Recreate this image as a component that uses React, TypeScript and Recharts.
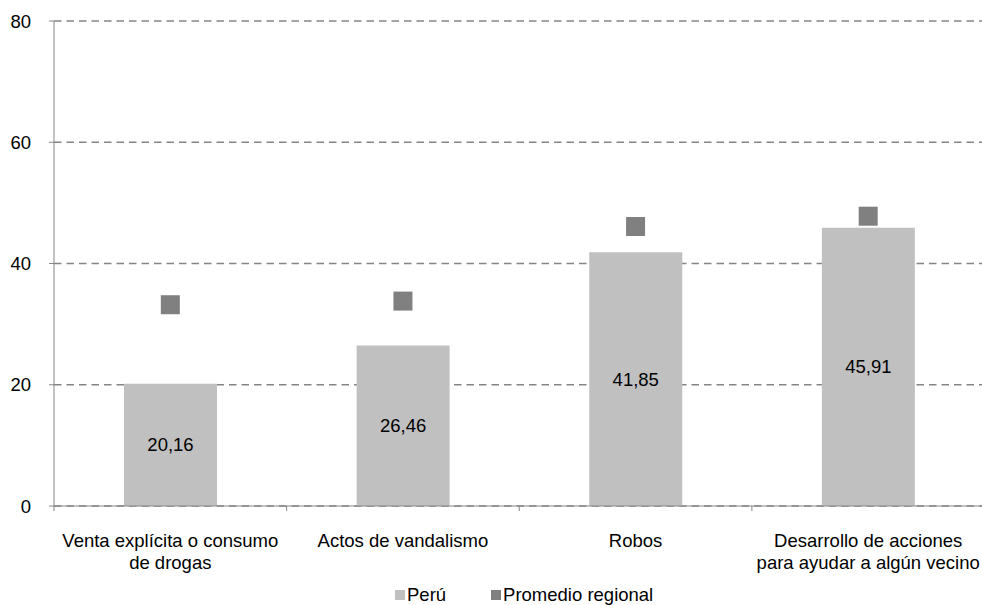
import { ComposedChart, Bar, Scatter, XAxis, YAxis, CartesianGrid, Legend, LabelList } from "recharts";

// categorías (con salto de línea donde el original parte el texto)
const categorias = [
  "Venta explícita o consumo\nde drogas",
  "Actos de vandalismo",
  "Robos",
  "Desarrollo de acciones\npara ayudar a algún vecino",
];
const peru = [20.16, 26.46, 41.85, 45.91];
const promedioRegional = [33.2, 33.8, 46.1, 47.8];
const ticksY = [0, 20, 40, 60, 80];

const data = categorias.map((c, i) => ({ cat: c, peru: peru[i], regional: promedioRegional[i] }));

const FONT = "'Liberation Sans', Arial, sans-serif";
const EJE = "#868686";

// etiqueta de categoría + marcas en los bordes de cada banda
const CatTick = (props: any) => {
  const { x, y, payload, index, width, visibleTicksCount } = props;
  const banda = width / visibleTicksCount;
  const lines = String(payload.value).split("\n");
  return (
    <g>
      <line x1={x - banda / 2} x2={x - banda / 2} y1={y} y2={y + 5} stroke={EJE} />
      {index === visibleTicksCount - 1 && (
        <line x1={x + banda / 2} x2={x + banda / 2} y1={y} y2={y + 5} stroke={EJE} />
      )}
      <text x={x} y={y} textAnchor="middle" fill="#000" fontSize={18.5} fontFamily={FONT}>
        {lines.map((l, i) => (
          <tspan key={i} x={x} dy={i === 0 ? 41 : 22}>{l}</tspan>
        ))}
      </text>
    </g>
  );
};

const Cuadrado = (props: any) => {
  const { cx, cy } = props;
  return <rect x={cx - 9.5} y={cy - 9.5} width={19} height={19} fill="#808080" />;
};

const Leyenda = () => (
  <div style={{ boxSizing: "border-box", display: "flex", alignItems: "center", height: 34, paddingTop: 14, paddingLeft: 395, fontFamily: FONT, fontSize: 18.5, color: "#000" }}>
    <span style={{ width: 10, height: 10, background: "#c0c0c0", marginRight: 2 }} />
    <span style={{ marginRight: 45 }}>Perú</span>
    <span style={{ width: 10, height: 10, background: "#808080", marginRight: 2 }} />
    <span>Promedio regional</span>
  </div>
);

export default function App() {
  return (
    <div style={{ position: "absolute", left: 0, top: 0, width: 982, height: 605, overflow: "hidden", background: "#fff" }}>
      <ComposedChart width={990} height={605} data={data} margin={{ top: 21, right: 5.5, bottom: 0, left: 0 }}>
        <CartesianGrid vertical={false} stroke="#858585" strokeWidth={1.5} strokeDasharray="7.5 5" />
        <XAxis
          dataKey="cat"
          height={65}
          axisLine={{ stroke: EJE }}
          tickLine={false}
          tickSize={0}
          tickMargin={0}
          interval={0}
          tick={<CatTick />}
        />
        <YAxis
          domain={[0, 80]}
          ticks={ticksY}
          width={54}
          axisLine={{ stroke: EJE }}
          tickLine={{ stroke: EJE }}
          tickSize={5}
          tickMargin={18}
          tick={{ fill: "#000", fontSize: 18.5, fontFamily: FONT }}
        />
        <Legend verticalAlign="bottom" content={<Leyenda />} />
        <Bar dataKey="peru" name="Perú" fill="#c0c0c0" barSize={93} isAnimationActive={false}>
          <LabelList
            dataKey="peru"
            position="center"
            formatter={(v: any) => Number(v).toFixed(2).replace(".", ",")}
            style={{ fill: "#000", fontSize: 18.5, fontFamily: FONT }}
          />
        </Bar>
        <Scatter dataKey="regional" name="Promedio regional" fill="#808080" shape={<Cuadrado />} isAnimationActive={false} />
      </ComposedChart>
    </div>
  );
}
